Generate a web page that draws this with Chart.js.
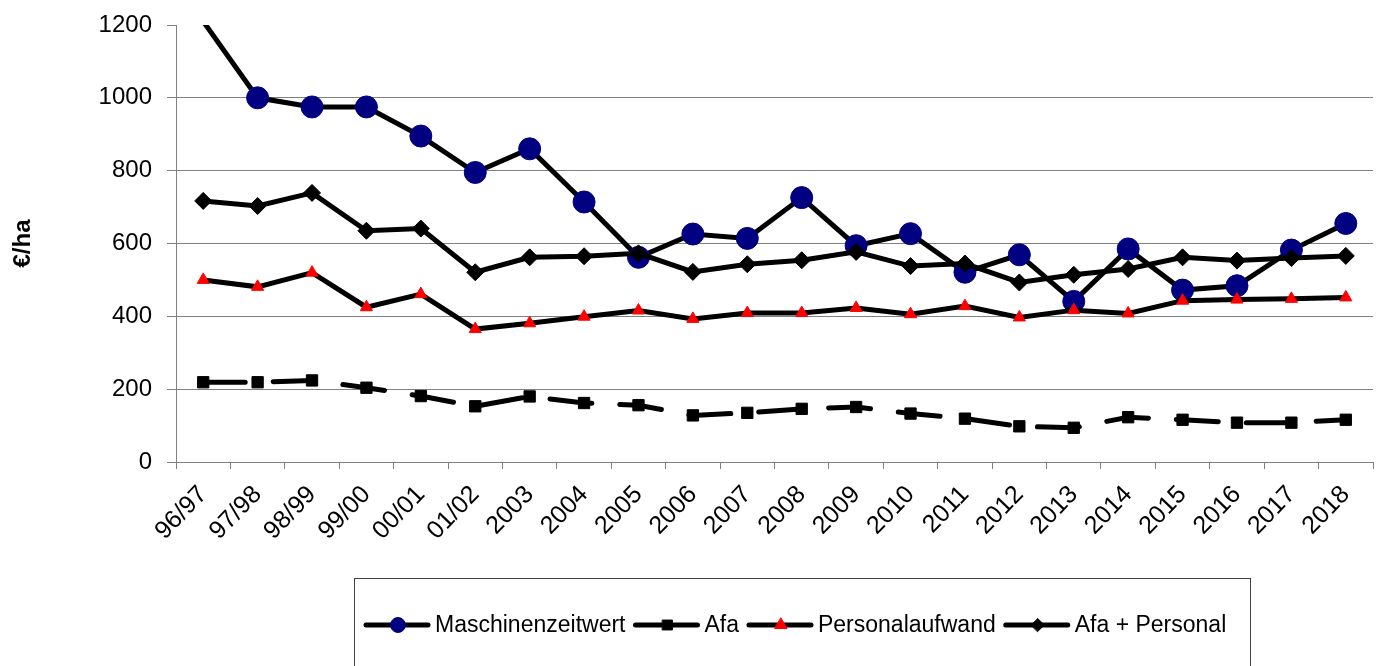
<!DOCTYPE html>
<html>
<head>
<meta charset="utf-8">
<script src="https://cdn.jsdelivr.net/npm/chart.js@4/dist/chart.umd.min.js"></script>
<style>
    html, body { margin: 0; padding: 0; background: #fff; }
    #wrap { width: 1385px; height: 666px; overflow: hidden; }
</style>
</head>
<body>
<div id="wrap"><canvas id="chart" width="1385" height="666"></canvas></div>
<script>
// Kategorien (Wirtschaftsjahre)
const years = ['96/97', '97/98', '98/99', '99/00', '00/01', '01/02', '2003', '2004', '2005', '2006', '2007',
    '2008', '2009', '2010', '2011', '2012', '2013', '2014', '2015', '2016', '2017', '2018'];

// Werte in €/ha
const maschinenzeitwert = [1210, 1000, 975, 975, 895, 795, 860, 714, 562, 626, 614, 726, 594, 627, 521, 569, 441, 585, 472, 484, 582, 655];
const afa = [219, 219, 224, 204, 181, 153, 180, 162, 156, 128, 135, 146, 151, 133, 119, 98, 94, 123, 116, 108, 108, 116];
const personalaufwand = [500, 481, 520, 425, 461, 365, 381, 399, 416, 393, 409, 409, 423, 406, 428, 397, 417, 408, 443, 446, 448, 452];
const afaPersonal = [717, 703, 739, 635, 641, 521, 562, 565, 573, 522, 543, 554, 577, 538, 545, 493, 514, 530, 562, 553, 560, 566];

const yTicks = [0, 200, 400, 600, 800, 1000, 1200];

const FONT = "'Liberation Sans', Arial, sans-serif";
const Y_MAX = yTicks[yTicks.length - 1];

// legend drawn like the Excel one: line with marker in a framed box
const excelLegend = {
    id: 'excelLegend',
    afterDraw(chart) {
        const ctx = chart.ctx;
        ctx.save();
        ctx.strokeStyle = '#404040';
        ctx.lineWidth = 1;
        ctx.strokeRect(354.5, 578.5, 896, 120);

        ctx.font = '23px ' + FONT;
        ctx.textBaseline = 'middle';
        const y = 625;
        let x = 366;
        chart.data.datasets.forEach(ds => {
            ctx.beginPath();
            ctx.strokeStyle = '#000';
            ctx.lineWidth = 5;
            ctx.lineCap = 'round';
            ctx.moveTo(x, y);
            ctx.lineTo(x + 62, y);
            ctx.stroke();
            ctx.fillStyle = ds.pointBackgroundColor;
            ctx.strokeStyle = ds.pointBorderColor;
            ctx.lineWidth = 1;
            Chart.helpers.drawPoint(ctx, {
                pointStyle: ds.pointStyle,
                radius: ds.legendRadius,
                borderWidth: 1
            }, x + 32, y);
            ctx.fillStyle = '#000';
            ctx.fillText(ds.label, x + 69, y + 1);
            x += 69 + ctx.measureText(ds.label).width + 10;
        });
        ctx.restore();
    }
};

new Chart(document.getElementById('chart'), {
    type: 'line',
    data: {
        labels: years,
        datasets: [
            {
                label: 'Maschinenzeitwert',
                data: maschinenzeitwert,
                borderColor: '#000',
                borderWidth: 5,
                pointStyle: 'circle',
                pointRadius: ctx => (ctx.raw > Y_MAX ? 0 : 11),
                pointBackgroundColor: '#000080',
                pointBorderColor: '#000080',
                pointBorderWidth: 1,
                legendRadius: 7.5,
                clip: 0,
                order: 4
            },
            {
                label: 'Afa',
                data: afa,
                borderColor: '#000',
                borderWidth: 5,
                borderDash: [42, 28],
                borderCapStyle: 'round',
                pointStyle: 'rect',
                pointRadius: 8,
                pointBackgroundColor: '#000',
                pointBorderColor: '#000',
                pointBorderWidth: 1,
                legendRadius: 7,
                order: 3
            },
            {
                label: 'Personalaufwand',
                data: personalaufwand,
                borderColor: '#000',
                borderWidth: 5,
                pointStyle: 'triangle',
                pointRadius: 7,
                pointBackgroundColor: '#ff0000',
                pointBorderColor: '#ff0000',
                pointBorderWidth: 1,
                legendRadius: 7,
                order: 2
            },
            {
                label: 'Afa + Personal',
                data: afaPersonal,
                borderColor: '#000',
                borderWidth: 5,
                pointStyle: 'rectRot',
                pointRadius: 8.5,
                pointBackgroundColor: '#000',
                pointBorderColor: '#000',
                pointBorderWidth: 1,
                legendRadius: 6.5,
                order: 1
            }
        ]
    },
    options: {
        responsive: false,
        animation: false,
        devicePixelRatio: 1,
        tension: 0,
        layout: { padding: { top: 25, right: 6, left: 0, bottom: 0 } },
        plugins: {
            legend: { display: false },
            tooltip: { enabled: false }
        },
        scales: {
            x: {
                offset: true,
                grid: {
                    offset: true,
                    drawOnChartArea: false,
                    tickLength: 7,
                    color: '#808080'
                },
                border: { color: '#808080', width: 1 },
                ticks: {
                    autoSkip: false,
                    minRotation: 46,
                    maxRotation: 46,
                    padding: 11,
                    color: '#000',
                    font: { family: FONT, size: 25 }
                },
                afterFit: scale => { scale.height = 666 - 462; }
            },
            y: {
                min: 0,
                max: Y_MAX,
                afterBuildTicks: scale => { scale.ticks = yTicks.map(v => ({ value: v })); },
                grid: {
                    color: c => (c.tick && c.tick.value === Y_MAX ? 'rgba(0,0,0,0)' : '#808080'),
                    tickColor: '#808080',
                    tickLength: 9,
                    lineWidth: 1
                },
                border: { color: '#808080', width: 1 },
                ticks: {
                    padding: 15,
                    color: '#000',
                    font: { family: FONT, size: 24 },
                    callback: v => String(v)
                },
                title: {
                    display: true,
                    text: '€/ha',
                    color: '#000',
                    font: { family: FONT, size: 24, weight: 'bold' },
                    padding: { top: 9, bottom: 0 }
                },
                afterFit: scale => {
                    scale.width = 176;
                    scale.paddingTop = 0;
                    scale.paddingBottom = 0;
                }
            }
        }
    },
    plugins: [excelLegend]
});
</script>
</body>
</html>
